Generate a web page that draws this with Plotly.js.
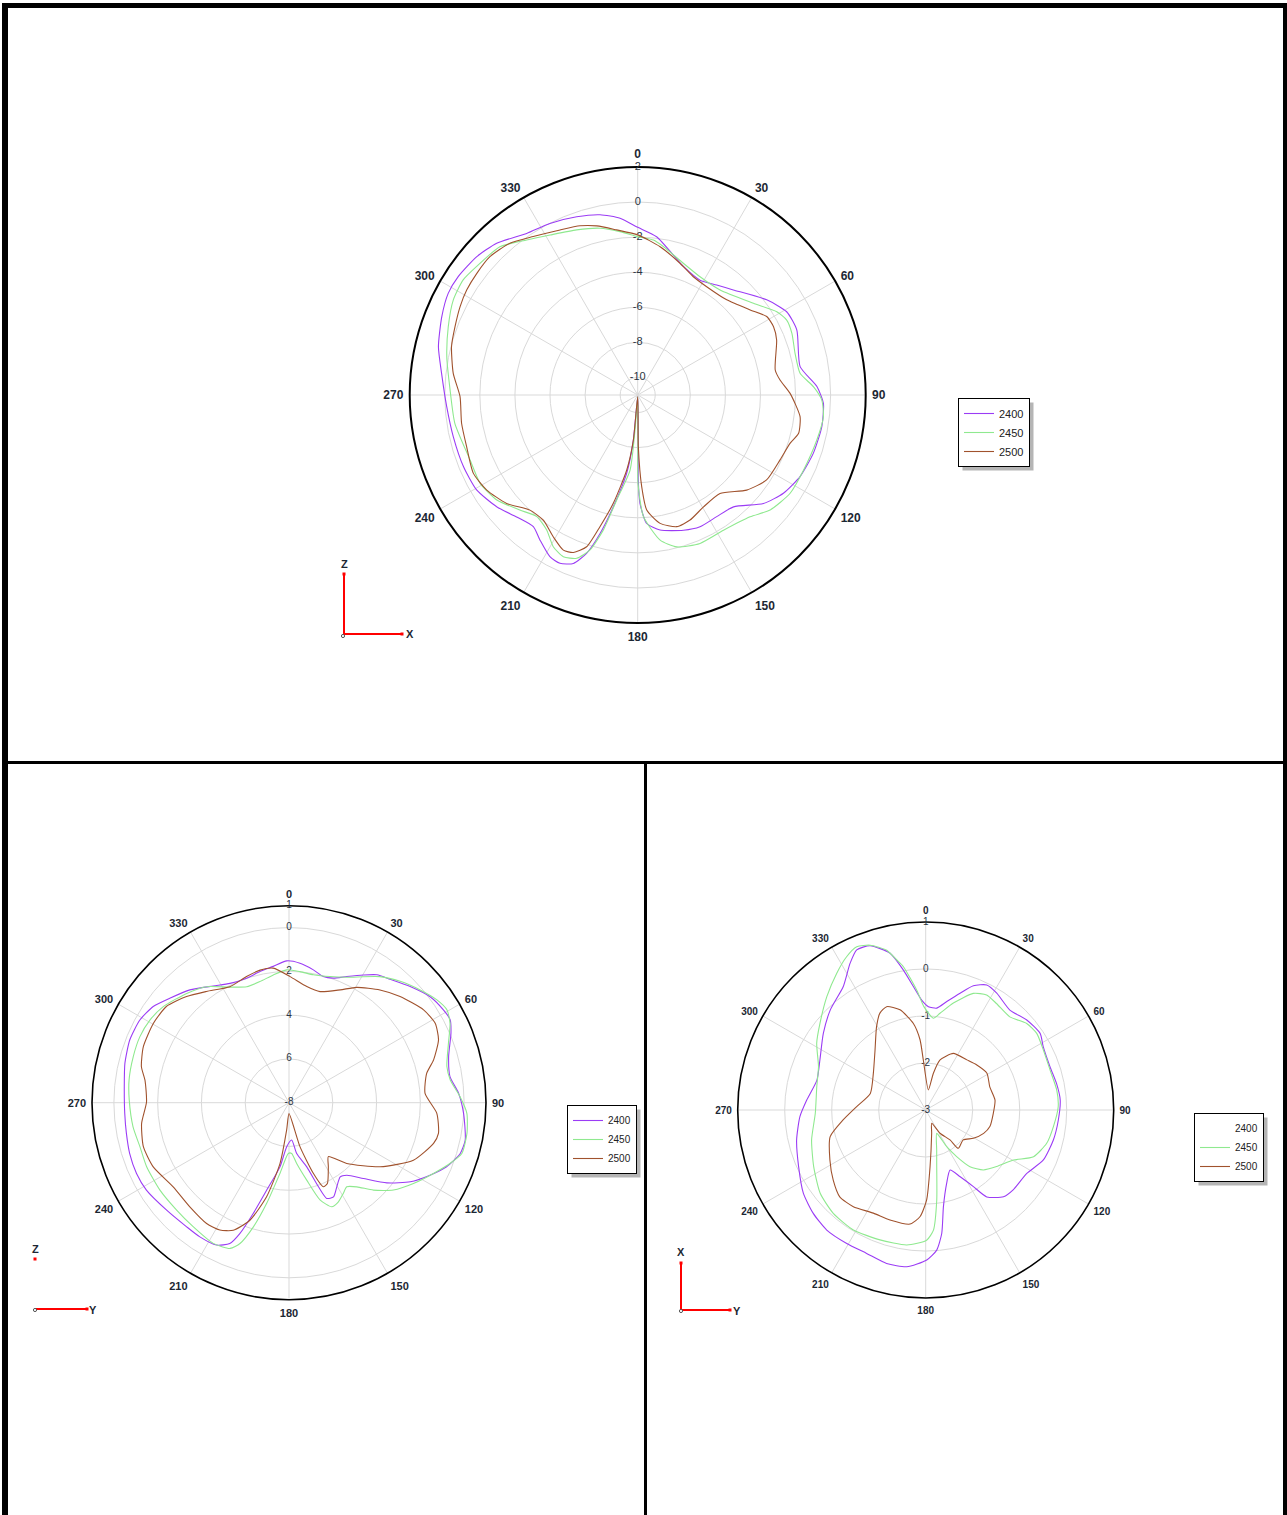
<!DOCTYPE html>
<html>
<head>
<meta charset="utf-8">
<script src="https://cdn.plot.ly/plotly-3.0.1.min.js"></script>
<style>
html,body{margin:0;padding:0;background:#fff;}
#chart{width:1287px;height:1515px;}
</style>
</head>
<body>
<div id="chart"></div>
<script>
// ---------- DATA ----------
const seriesNames = ['2400', '2450', '2500'];
const seriesColors = ['#9b3cf5', '#8fe98f', '#a0522d'];
const angleTicks = [0, 30, 60, 90, 120, 150, 180, 210, 240, 270, 300, 330];
const angleLabels = ['0', '30', '60', '90', '120', '150', '180', '210', '240', '270', '300', '330'];

// Top plot (XZ plane)
const topRadialVals = [2, 0, -2, -4, -6, -8, -10];
const topRadialText = ['2', '0', '-2', '-4', '-6', '-8', '-10'];
const topTheta2400 = [0,6.8,19.6,28.5,35.7,42.3,53.6,60.8,67.8,80.1,87.3,92.6,99.8,108.4,116.7,124,130.8,139.4,147,154.7,161.3,170.6,176,178.8,179.6,179.3,180,185.5,188,192.3,195.2,197.9,200.9,204.8,208.5,214,218.4,224.8,231.6,239.5,247.6,257.3,266.5,276.3,283.6,291.8,298.2,303.4,310.7,317.1,325.5,332.9,341.1,348.2,354.3,360];
const topR2400 = [-1.44,-1.91,-3.22,-3.55,-3.28,-2.9,-1.86,-1.27,-1.2,-1.6,-0.77,-0.4,-0.35,-0.45,-0.64,-0.98,-1.53,-2.6,-2.73,-2.69,-2.86,-3.2,-3.66,-4.82,-6.15,-8.5,-10.9,-8.4,-6.5,-4.48,-2.82,-1.51,-0.72,-0.43,-0.51,-1.03,-1.42,-1.2,-0.74,-0.34,-0.26,-0.22,-0.09,0.25,0.69,1.03,1.26,1.26,1.1,0.81,0.18,-0.01,-0.26,-0.5,-0.87,-1.44];
const topTheta2450 = [0,5.8,9.8,19.1,27.8,38.1,51.6,59.1,63.3,68.2,75.2,82.4,87.3,91.6,96.7,104.1,114.4,122.8,131,137.3,147.6,157.2,165.6,171.2,177.3,179.8,179.7,180,184.4,185.8,191.3,194.3,197.1,200.5,204.7,209.1,214,219.7,225.7,233.3,240.7,248.8,261.2,271.5,281.3,289.8,297.3,303.4,308.6,317.1,324.4,331.3,339.7,347.3,353.8,360];
const topR2450 = [-1.97,-2.12,-2.41,-3.05,-3.38,-3.39,-2.58,-1.76,-1.49,-1.53,-1.72,-1.66,-0.97,-0.5,-0.34,-0.47,-0.62,-0.66,-1.0,-1.55,-1.87,-1.82,-2.06,-2.63,-4.06,-5.96,-8.4,-10.9,-9.0,-6.7,-4.9,-3.05,-1.76,-1.06,-0.85,-1.1,-1.72,-1.99,-1.61,-0.98,-0.7,-0.75,-0.45,-0.3,0.1,0.48,0.83,0.92,0.75,0.54,-0.13,-0.6,-0.96,-1.25,-1.63,-1.97];
const topTheta2500 = [0,8.6,17.8,25.2,32.5,43.1,52.9,58.7,63.3,68.4,79.7,84,89.4,97.6,103.4,107.6,114.5,123.4,131.1,140.1,149.5,157.3,163.5,170.1,175.5,177.5,179.3,180,185.5,188.3,192.7,196,198.6,202.2,205.6,210.8,217,223.1,230.4,237.8,244.5,253.2,260.9,269.5,276.7,284.6,290.5,296.4,301.6,307.1,313.1,319.9,326.6,334.8,341.2,346.4,352.7,360];
const topR2500 = [-1.87,-2.45,-3.11,-3.55,-3.68,-3.57,-2.96,-2.39,-2.33,-2.48,-3.03,-2.84,-2.31,-1.66,-1.57,-1.89,-2.08,-2.2,-2.75,-3.68,-3.6,-3.27,-3.17,-3.57,-4.42,-5.77,-8.05,-10.9,-8.4,-6.68,-4.67,-3.19,-1.87,-1.3,-1.19,-1.59,-2.06,-2.01,-1.3,-0.83,-0.62,-0.81,-0.83,-0.87,-0.41,-0.03,0.12,0.31,0.44,0.5,0.54,0.31,-0.18,-0.6,-0.81,-1.08,-1.51,-1.87];

// Bottom-left plot (YZ plane)
const blRadialVals = [1, 0, -2, -4, -6, -8];
const blRadialText = ['1', '0', '2', '4', '6', '-8'];
const blTheta2400 = [359.1,4.5,10.4,15.2,19.6,24.6,30.2,34.5,39.3,46.2,53.1,59,62.8,66.8,73.9,80.8,86.8,93.5,102,106.5,112.1,117.2,123.1,129.3,135.5,141.4,145.4,150.4,154.7,158.5,160.7,164.6,171.4,175.9,183,188,194.3,197.9,200.6,202.8,207,213.6,219.5,228.7,238.5,245.1,252.3,259.3,266.3,275.5,283.5,291.5,299,305.3,311.2,318.7,327,333.7,341.2,347.5,353.4,359.1];
const blR2400 = [-1.52,-1.61,-1.83,-2.03,-1.96,-1.66,-1.25,-0.91,-0.71,-0.33,0.06,0.23,0.28,0.05,-0.41,-0.55,-0.24,-0.01,0.23,0.16,-0.23,-0.76,-1.38,-2.22,-3.15,-3.76,-3.88,-3.58,-3.24,-3.3,-3.93,-4.97,-5.65,-6.29,-5.99,-5.04,-3.88,-2.68,-1.61,-1.02,-0.7,-0.64,-0.65,-0.56,-0.36,-0.32,-0.36,-0.44,-0.48,-0.44,-0.29,-0.18,-0.21,-0.4,-0.76,-1.14,-1.64,-1.92,-1.99,-1.86,-1.73,-1.52];
const blTheta2450 = [359,4.8,10.8,18,24.7,35.8,42.5,49.3,55.2,59.6,63.8,69.6,77.1,82,88,93.4,99.8,106.4,110.6,116.1,123,129.9,136,141.1,145.5,149.1,153.5,157.7,162.3,167.1,172.8,177,180.8,187.3,192.5,196,199.2,202,208.3,217.7,226.3,235.9,245.8,253.5,261.2,271,278.1,286.5,293.9,300.7,307.4,316.9,324.6,332.9,340,346.5,353,359];
const blR2450 = [-1.93,-1.99,-2.05,-1.94,-1.69,-0.9,-0.48,-0.1,0.23,0.37,0.2,-0.23,-0.6,-0.56,-0.18,0.14,0.25,0.23,-0.13,-0.65,-1.22,-1.78,-2.45,-3.06,-3.34,-3.17,-2.94,-2.86,-3.34,-4.37,-5.2,-5.68,-5.68,-4.74,-3.29,-2.1,-1.19,-0.82,-0.7,-0.84,-0.9,-0.88,-0.87,-0.9,-0.79,-0.7,-0.62,-0.58,-0.55,-0.61,-0.77,-1.16,-1.5,-2.07,-2.36,-2.31,-2.12,-1.93];
const blTheta2500 = [0.5,8.7,15.6,24.4,30.4,38.9,46.3,55.4,61.5,67.2,73.5,78,86.1,94.1,101.6,105.7,114.8,125.1,136.5,143.9,148.4,154.6,157.8,161,166,180,184.9,188.4,193.4,198.4,203.6,208.5,214.3,223.6,234,244.7,253.2,262,270.3,278.9,283.7,291,300.3,308.1,316,323.4,333,341.4,347.7,353.3,0.5];
const blR2500 = [-2.24,-2.63,-2.73,-2.34,-1.89,-1.38,-0.98,-0.53,-0.4,-0.59,-1.11,-1.57,-1.77,-1.23,-1.03,-1.14,-1.74,-2.91,-4.17,-4.95,-4.57,-3.91,-3.85,-4.59,-5.93,-7.5,-6.75,-5.2,-3.58,-2.34,-1.64,-1.38,-1.32,-1.43,-1.46,-1.14,-1.05,-1.2,-1.49,-1.34,-1.06,-0.87,-0.82,-0.88,-1.26,-1.67,-2.05,-1.92,-1.8,-1.81,-2.24];

// Bottom-right plot (XY plane)
const brRadialVals = [1, 0, -1, -2, -3];
const brRadialText = ['1', '0', '-1', '-2', '-3'];
const brTheta2400 = [357.9,1.5,6.2,11,16.4,21,26,31.3,40.1,48.3,56.2,61.7,70.8,78.5,85.7,94.3,103.2,113,122.1,132.4,138.1,144.9,148.1,152.7,157.9,164,169.6,172.6,175.5,179.6,186.9,194.3,202.4,210.6,219.5,227.4,235.7,246,256.9,267,274.8,285.4,295.3,306.8,316.3,326.3,332.7,336.7,341.3,347.2,350.9,354.3,357.9];
const brR2400 = [-0.66,-0.8,-0.82,-0.65,-0.41,-0.17,-0.04,-0.09,-0.22,-0.12,-0.07,-0.16,-0.2,-0.16,-0.13,-0.17,-0.21,-0.28,-0.46,-0.48,-0.52,-0.74,-1.08,-1.4,-1.62,-1.38,-0.91,-0.35,-0.01,0.19,0.36,0.37,0.3,0.3,0.31,0.25,0.15,-0.04,-0.18,-0.32,-0.46,-0.6,-0.51,-0.28,-0.06,0.16,0.51,0.71,0.69,0.42,0.02,-0.36,-0.66];
const brTheta2450 = [355.7,359,4.8,8.4,14.5,22.2,27.9,33.6,42.1,49.4,55.4,63,72.2,81.3,88.6,97.4,105.4,113.4,119.7,128.6,136.1,142,146.4,150.2,154.8,164.6,169,173,176.3,179.6,188,199.4,211.1,221.8,231.7,243.2,255.3,268.3,282.1,292,301.5,309.4,318.9,326.9,332.7,337.1,341.4,346.3,349.1,351.1,355.7];
const brR2450 = [-0.44,-0.8,-1.04,-0.92,-0.65,-0.32,-0.23,-0.28,-0.33,-0.17,-0.13,-0.19,-0.22,-0.18,-0.18,-0.26,-0.33,-0.5,-0.85,-1.07,-1.23,-1.47,-1.81,-2.1,-2.45,-2.12,-1.77,-1.07,-0.44,-0.23,-0.1,-0.07,-0.02,-0.05,-0.14,-0.33,-0.49,-0.65,-0.63,-0.54,-0.28,-0.09,0.2,0.47,0.67,0.77,0.7,0.5,0.25,0.09,-0.44];
const brTheta2500 = [7.6,11.8,16,26,39.4,48.6,59,70.1,81.8,92.8,104.5,112,120.7,128.5,139.6,140.9,148.4,155.8,165.6,175.6,179.4,183,187.8,198,206.9,216.8,224.7,232.8,242.4,254.4,263.1,272.8,286.7,305,319.8,329.5,334.7,339.3,345.6,351.9,355.4,357.3,7.6];
const brR2500 = [-2.57,-2.2,-1.89,-1.66,-1.62,-1.55,-1.48,-1.55,-1.51,-1.56,-1.59,-1.67,-1.82,-1.98,-1.93,-2.18,-2.42,-2.69,-2.49,-1.79,-1.09,-0.73,-0.55,-0.54,-0.54,-0.43,-0.4,-0.53,-0.7,-0.89,-1.23,-1.53,-1.77,-1.64,-1.33,-0.94,-0.72,-0.65,-0.8,-1.14,-1.5,-1.94,-2.57];

// ---------- LAYOUT HELPERS ----------
const W = 1287, H = 1515;
const fx = p => p / W;
const fy = p => 1 - p / H;
const LABEL_COLOR = '#1c2733';
const GRID = '#d9d9d9';
const FONT = 'Liberation Sans, Arial, sans-serif';

function polarLayout(cx, cy, rad, range, tickvals, angFont, lineW) {
  return {
    domain: {x: [fx(cx - rad), fx(cx + rad)], y: [fy(cy + rad), fy(cy - rad)]},
    bgcolor: 'white',
    angularaxis: {
      rotation: 90, direction: 'clockwise',
      tickmode: 'array', tickvals: angleTicks, ticktext: angleLabels,
      showline: true, linecolor: 'black', linewidth: lineW,
      showgrid: true, gridcolor: GRID, gridwidth: 1,
      ticks: 'outside', ticklen: 3, tickcolor: 'rgba(0,0,0,0)', layer: 'below traces',
      tickfont: {family: FONT, size: angFont, color: LABEL_COLOR, weight: 'bold'}
    },
    radialaxis: {
      range: range, angle: 90,
      tickmode: 'array', tickvals: tickvals,
      showticklabels: false, ticks: '', showline: false,
      showgrid: true, gridcolor: GRID, gridwidth: 1, layer: 'below traces'
    }
  };
}

const data = [];
function addLabels(subplot, vals, texts, size) {
  data.push({
    type: 'scatterpolar', subplot: subplot, mode: 'text',
    r: vals, theta: vals.map(() => 0), text: texts,
    textposition: 'middle center',
    textfont: {family: FONT, size: size, color: '#2a3442'},
    showlegend: false, hoverinfo: 'skip', cliponaxis: false
  });
}
function addSeries(subplot, legendId, thetas, rs, showLeg) {
  for (let i = 0; i < 3; i++) {
    data.push({
      type: 'scatterpolar', subplot: subplot, mode: 'lines',
      theta: thetas[i], r: rs[i], name: seriesNames[i],
      line: {color: seriesColors[i], width: 1.1, shape: 'spline', smoothing: 0.6},
      legend: legendId, showlegend: showLeg[i], hoverinfo: 'skip'
    });
  }
}

addLabels('polar', topRadialVals, topRadialText, 11);
addLabels('polar2', blRadialVals, blRadialText, 10);
addLabels('polar3', brRadialVals, brRadialText, 10);

addSeries('polar', 'legend', [topTheta2400, topTheta2450, topTheta2500], [topR2400, topR2450, topR2500], [true, true, true]);
addSeries('polar2', 'legend2', [blTheta2400, blTheta2450, blTheta2500], [blR2400, blR2450, blR2500], [true, true, true]);
// In the XY legend the 2400 sample line is not visible: a one-point, invisible entry carries its label
data.push({type: 'scatterpolar', subplot: 'polar3', mode: 'lines',
  r: [brRadialVals[brRadialVals.length - 1]], theta: [angleTicks[0]], name: seriesNames[0],
  line: {color: 'rgba(255,255,255,0)', width: 1}, legend: 'legend3', showlegend: true, hoverinfo: 'skip'});
addSeries('polar3', 'legend3', [brTheta2400, brTheta2450, brTheta2500], [brR2400, brR2450, brR2500], [false, true, true]);

function legendCfg(x, y, size) {
  return {
    x: fx(x), y: fy(y), xanchor: 'left', yanchor: 'top',
    bgcolor: 'white', bordercolor: 'black', borderwidth: 1,
    font: {family: FONT, size: size, color: '#222'},
    tracegroupgap: 0, itemwidth: 30, traceorder: 'normal'
  };
}

function rect(x0, y0, x1, y1, color) {
  return {type: 'rect', xref: 'paper', yref: 'paper', x0: fx(x0), x1: fx(x1), y0: fy(y1), y1: fy(y0),
    fillcolor: color, line: {width: 0}, layer: 'above'};
}
function seg(x0, y0, x1, y1, color, w) {
  return {type: 'line', xref: 'paper', yref: 'paper', x0: fx(x0), y0: fy(y0), x1: fx(x1), y1: fy(y1),
    line: {color: color, width: w}, layer: 'above'};
}
function dot(x, y, r, color) {
  return {type: 'circle', xref: 'paper', yref: 'paper', x0: fx(x - r), x1: fx(x + r), y0: fy(y + r), y1: fy(y - r),
    fillcolor: 'white', line: {color: color, width: 1}, layer: 'above'};
}
function note(x, y, txt) {
  return {xref: 'paper', yref: 'paper', x: fx(x), y: fy(y), text: txt, showarrow: false,
    xanchor: 'center', yanchor: 'middle',
    font: {family: FONT, size: 11, color: LABEL_COLOR, weight: 'bold'}};
}

const shapes = [
  // panel frame
  rect(2, 3, 8, 1515, 'black'),
  rect(2, 3, 1287, 8, 'black'),
  rect(1283, 3, 1287, 1515, 'black'),
  rect(2, 761, 1287, 764, 'black'),
  rect(644, 761, 647, 1515, 'black'),
  // top axis icon (Z up, X right)
  seg(344, 574, 344, 634, 'red', 2),
  seg(344, 634, 402, 634, 'red', 2),
  rect(342.5, 572.5, 345.5, 575.5, 'red'),
  rect(400.5, 632.5, 403.5, 635.5, 'red'),
  dot(343, 636, 1.6, '#555'),
  // bottom-left icon (Z out of page, Y right)
  rect(33.5, 1257.5, 36.5, 1260.5, 'red'),
  seg(35, 1309, 87, 1309, 'red', 2),
  rect(85.5, 1307.5, 88.5, 1310.5, 'red'),
  dot(35, 1310, 1.6, '#555'),
  // bottom-right icon (X up, Y right)
  seg(681, 1263, 681, 1310, 'red', 2),
  seg(681, 1310, 730, 1310, 'red', 2),
  rect(679.5, 1261.5, 682.5, 1264.5, 'red'),
  rect(728.5, 1308.5, 731.5, 1311.5, 'red'),
  dot(681, 1311, 1.6, '#555')
];

const annotations = [
  note(344, 564, 'Z'), note(410, 634, 'X'),
  note(35, 1249, 'Z'), note(93, 1310, 'Y'),
  note(681, 1252, 'X'), note(737, 1311, 'Y')
];

const layout = {
  width: W, height: H,
  margin: {l: 0, r: 0, t: 0, b: 0, pad: 0},
  paper_bgcolor: 'white',
  showlegend: true,
  polar: polarLayout(637.7, 395, 228, [-11, 2], [-10, -8, -6, -4, -2, 0, 2], 12, 2),
  polar2: polarLayout(289, 1102.7, 197, [-8, 1], [-8, -6, -4, -2, 0, 1], 11, 1.6),
  polar3: polarLayout(925.7, 1110, 188, [-3, 1], [-3, -2, -1, 0, 1], 10, 1.6),
  legend: legendCfg(958, 398, 11),
  legend2: legendCfg(567, 1105, 10),
  legend3: legendCfg(1194, 1113, 10),
  shapes: shapes,
  annotations: annotations
};

Plotly.newPlot('chart', data, layout, {staticPlot: true, displayModeBar: false}).then(gd => {
  const extra = [];
  ['legend', 'legend2', 'legend3'].forEach(id => {
    const bg = gd.querySelector('g.' + id + ' rect.bg');
    if (!bg) return;
    const b = bg.getBoundingClientRect();
    extra.push(rect(b.left + 4, b.top + 4, b.right + 4, b.bottom + 4, '#b5b5b5'));
  });
  if (extra.length) Plotly.relayout(gd, {shapes: shapes.concat(extra)});
});
</script>
</body>
</html>
